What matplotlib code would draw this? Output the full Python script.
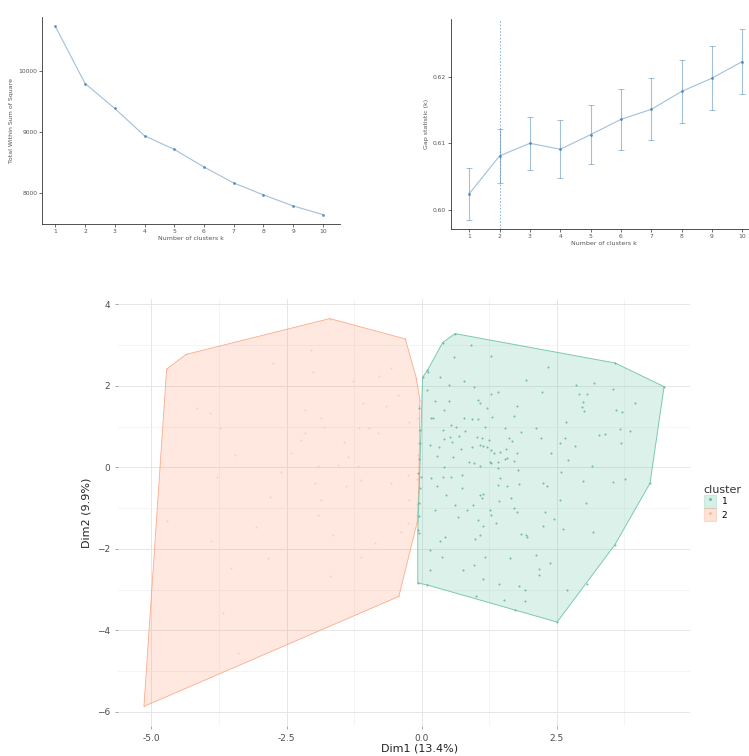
import matplotlib
matplotlib.use("Agg")
import matplotlib.pyplot as plt
from matplotlib.patches import Polygon, Patch
from matplotlib.lines import Line2D
import numpy as np

# ---------------- data ----------------
k_values = [1, 2, 3, 4, 5, 6, 7, 8, 9, 10]
wss_values = [10730, 9792, 9382, 8934, 8710, 8421, 8159, 7962, 7782, 7639]

gap_values = [0.6024, 0.6081, 0.6100, 0.6091, 0.6113, 0.6136, 0.6151, 0.6178, 0.6198, 0.6223]
gap_upper = [0.6063, 0.6122, 0.6139, 0.6135, 0.6157, 0.6181, 0.6198, 0.6225, 0.6246, 0.6272]
gap_lower = [0.5985, 0.6040, 0.6060, 0.6048, 0.6069, 0.6090, 0.6105, 0.6131, 0.6150, 0.6174]
optimal_k = 2

# cluster 1 points (Dim1, Dim2)
c1_dim1 = [0.91, 0.60, 1.29, 2.34, 0.12, 0.34, 0.51, 0.79, 1.94, 2.86, 3.19, 0.11, 0.98, 1.41,
           1.29, 2.23, 2.91, 3.06, 3.55, 0.25, 0.51, 1.05, 1.08, 1.77, 2.99, 2.97, 3.95, 0.41,
           1.22, 1.31, 1.71, 0.17, 0.22, 0.79, 0.94, 1.05, 2.68, 3.00, 3.60, 3.71, 0.39, 0.55,
           0.63, 0.81, 1.17, 1.54, 2.11, 1.85, 2.21, 2.66, 2.57, 2.85, 3.28, 3.40, 3.68, 3.85,
           3.69, 0.42, 0.53, 0.69, 1.03, 1.11, 1.25, 1.62, 1.68, 0.16, 0.33, 0.57, 0.73, 0.94,
           1.08, 1.13, 1.22, 1.28, 1.34, 1.46, 1.56, 1.59, 1.77, 2.40, 0.28, 0.59, 0.88, 0.97,
           1.27, 1.29, 1.41, 1.54, 1.71, 2.72, 0.41, 0.54, 0.74, 1.08, 1.41, 1.78, 2.59, 3.15,
           0.18, 0.39, 0.28, 0.74, 1.45, 1.42, 1.59, 1.80, 2.25, 2.32, 2.99, 3.54, 3.77, 0.45,
           0.62, 0.96, 1.09, 1.14, 1.11, 1.43, 1.65, 2.57, 3.05, 0.25, 0.68, 0.84, 1.27, 1.29,
           1.37, 1.71, 1.76, 2.29, 2.46, 1.05, 1.13, 0.99, 1.09, 0.34, 0.44, 1.85, 1.94, 1.96,
           2.25, 2.61, 3.17, 0.15, 0.38, 1.17, 1.64, 2.11, 2.37, 0.76, 0.97, 0.16, 1.14, 1.43,
           1.80, 2.18, 2.18, 1.91, 2.69, 3.06, 1.00, 1.53, 1.92, 1.73, -0.04, -0.03, -0.06, -0.04,
           -0.07, -0.04, -0.01, -0.02, -0.03, -0.05, -0.04,
           0.62, 0.39, 0.11, 0.02, -0.07, 0.11, 2.51, 3.58, 4.23, 4.49, 3.58]
c1_dim2 = [3.00, 2.71, 2.74, 2.47, 2.34, 2.22, 2.03, 2.12, 2.14, 2.03, 2.08, 1.90, 1.96, 1.85,
           1.81, 1.85, 1.81, 1.81, 1.91, 1.63, 1.63, 1.65, 1.58, 1.50, 1.61, 1.49, 1.58, 1.41,
           1.45, 1.24, 1.26, 1.20, 1.20, 1.20, 1.18, 1.18, 1.12, 1.39, 1.41, 1.36, 0.92, 1.04,
           1.00, 0.89, 1.00, 0.96, 0.97, 0.87, 0.71, 0.73, 0.59, 0.51, 0.79, 0.82, 0.94, 0.90,
           0.60, 0.69, 0.74, 0.77, 0.75, 0.71, 0.67, 0.71, 0.65, 0.55, 0.49, 0.63, 0.44, 0.49,
           0.55, 0.51, 0.49, 0.42, 0.34, 0.38, 0.44, 0.22, 0.34, 0.36, 0.28, 0.26, 0.14, 0.11,
           0.14, 0.10, 0.14, 0.20, 0.16, 0.18, 0.00, -0.23, -0.20, 0.03, -0.02, -0.07, -0.11, 0.03,
           -0.27, -0.23, -0.46, -0.51, -0.27, -0.43, -0.46, -0.42, -0.38, -0.46, -0.33, -0.35, -0.29, -0.68,
           -0.92, -0.92, -0.68, -0.65, -0.76, -0.84, -0.76, -0.80, -0.87, -1.05, -1.21, -1.05, -1.05, -1.17,
           -1.36, -1.00, -1.09, -1.09, -1.27, -1.29, -1.45, -1.76, -1.67, -1.82, -1.70, -1.63, -1.66, -1.72,
           -1.45, -1.52, -1.58, -2.03, -2.21, -2.21, -2.23, -2.15, -2.34, -2.52, -2.39, -2.53, -2.75, -2.86,
           -2.91, -2.50, -2.64, -3.02, -3.01, -2.86, -3.15, -3.25, -3.28, -3.50, 1.45, 0.92, -0.15, -0.88,
           -1.54, -1.62, -0.23, 0.60, -0.50, -1.20, 0.20,
           3.28, 3.06, 2.38, 2.21, -2.84, -2.89, -3.80, -1.90, -0.39, 1.98, 2.56]

# cluster 2 points (Dim1, Dim2)
c2_dim1 = [-2.04, -2.01, -1.27, -0.78, -0.57, -0.44, -1.09, -0.66, -2.16, -1.86, -1.80, -1.15,
           -0.97, -0.81, -2.16, -1.43, -2.23, -0.23, -2.41, -1.37, -1.92, -1.18, -1.55, -1.98,
           -1.40, -0.57, -0.26, -0.23, -1.86, -1.12, -2.75, -4.16, -3.92, -3.46, -2.60, -3.79,
           -2.81, -3.73, -4.72, -3.89, -3.06, -2.84, -3.52, -3.67, -3.39, -1.64, -1.12, -1.70,
           -0.87, -0.26, -0.38, -1.92, -0.05, -0.06, -0.05, -0.07, -0.06, -0.07, -0.08, -0.07,
           -0.08, -0.09, -5.14, -4.72, -4.36, -1.70, -0.30, -0.10, -0.03, -0.08, -0.42]
c2_dim2 = [2.88, 2.34, 2.12, 2.24, 2.43, 1.77, 1.57, 1.50, 1.41, 1.20, 1.00, 0.97,
           0.96, 0.83, 0.83, 0.63, 0.67, 1.12, 0.34, 0.26, 0.02, 0.02, 0.06, -0.39,
           -0.47, -0.39, -0.19, -0.80, -0.80, -0.31, 2.55, 1.45, 1.32, 0.30, -0.11, -0.23,
           -0.72, 0.96, -1.33, -1.82, -1.46, -2.23, -2.48, -3.58, -4.56, -1.66, -2.19, -2.68,
           -1.86, -1.37, -1.58, -1.17, 1.50, 1.20, 0.90, 0.60, 0.30, 0.00, -0.30, -0.60,
           -0.90, -1.20, -5.87, 2.41, 2.77, 3.65, 3.15, 2.20, 1.65, -1.35, -3.17]

# convex hull vertices
hull1_dim1 = [0.62, 0.39, 0.11, 0.02, -0.02, -0.07, -0.07, 0.11, 2.51, 3.58, 4.23, 4.49, 3.58]
hull1_dim2 = [3.28, 3.06, 2.38, 2.21, 0.50, -1.60, -2.84, -2.89, -3.80, -1.90, -0.39, 1.98, 2.56]
hull2_dim1 = [-5.14, -4.72, -4.36, -1.70, -0.30, -0.10, -0.03, -0.05, -0.08, -0.42]
hull2_dim2 = [-5.87, 2.41, 2.77, 3.65, 3.15, 2.20, 1.65, -0.50, -1.35, -3.17]

cluster_labels = ["1", "2"]
x_label_pca = "Dim1 (13.4%)"
y_label_pca = "Dim2 (9.9%)"

# ---------------- style ----------------
GREEN = "#66C2A5"
ORANGE = "#FC8D62"
LINE = "#4682B4"
TXT = "#555555"

fig = plt.figure(figsize=(7.49, 7.56), dpi=100)

def classic(ax, fs=4.3):
    for s in ["top", "right"]:
        ax.spines[s].set_visible(False)
    for s in ["left", "bottom"]:
        ax.spines[s].set_color("#333333")
        ax.spines[s].set_linewidth(0.6)
    ax.tick_params(labelsize=fs, colors="#333333", length=2, width=0.5, pad=1.5)
    for t in ax.get_xticklabels() + ax.get_yticklabels():
        t.set_color(TXT)

# ---- top-left: elbow ----
ax1 = fig.add_axes([42/749, 1-224/756, 298/749, 207/756])
ax1.plot(k_values, wss_values, color=LINE, lw=0.8, alpha=0.5)
ax1.scatter(k_values, wss_values, s=4, color=LINE, alpha=0.85, zorder=3, linewidths=0)
ax1.set_xlim(0.55, 10.58)
ax1.set_ylim(7484, 10885)
ax1.set_xticks(k_values)
ax1.set_yticks([8000, 9000, 10000])
ax1.set_xlabel("Number of clusters k", fontsize=4.5, color=TXT, labelpad=1.5)
ax1.set_ylabel("Total Within Sum of Square", fontsize=4.5, color=TXT, labelpad=3)
classic(ax1)

# ---- top-right: gap statistic ----
ax2 = fig.add_axes([451/749, 1-229/756, 305/749, 210/756])
yerr = [np.array(gap_values) - np.array(gap_lower), np.array(gap_upper) - np.array(gap_values)]
ax2.errorbar(k_values, gap_values, yerr=yerr, color=LINE, lw=0.8, alpha=0.5,
             elinewidth=0.8, capsize=2.2, capthick=0.7, fmt="-")
ax2.scatter(k_values, gap_values, s=4, color=LINE, alpha=0.85, zorder=3, linewidths=0)
ax2.axvline(optimal_k, color=LINE, lw=0.6, ls=(0, (2, 2)), alpha=0.7)
ax2.set_xlim(0.4, 10.45)
ax2.set_ylim(0.5971, 0.6287)
ax2.set_xticks(k_values)
ax2.set_yticks([0.60, 0.61, 0.62])
ax2.set_yticklabels(["0.60", "0.61", "0.62"])
ax2.set_xlabel("Number of clusters k", fontsize=4.5, color=TXT, labelpad=1.5)
ax2.set_ylabel("Gap statistic (k)", fontsize=4.5, color=TXT, labelpad=3)
classic(ax2)

# ---- bottom: cluster plot ----
ax3 = fig.add_axes([118/749, 1-726/756, 572/749, 427/756])
for s in ax3.spines.values():
    s.set_visible(False)
ax3.set_xlim(-5.62, 4.97)
ax3.set_ylim(-6.35, 4.13)
ax3.set_xticks([-5.0, -2.5, 0.0, 2.5])
ax3.set_xticklabels(["-5.0", "-2.5", "0.0", "2.5"])
ax3.set_yticks([-6, -4, -2, 0, 2, 4])
ax3.set_xticks([-3.75, -1.25, 1.25, 3.75], minor=True)
ax3.set_yticks([-5, -3, -1, 1, 3], minor=True)
ax3.grid(True, which="major", color="#e6e6e6", lw=0.7)
ax3.grid(True, which="minor", color="#f0f0f0", lw=0.5)
ax3.set_axisbelow(True)
ax3.tick_params(which="major", labelsize=6.5, colors="#999999", length=2.5, width=0.6, pad=3)
ax3.tick_params(which="minor", length=0)
for t in ax3.get_xticklabels() + ax3.get_yticklabels():
    t.set_color("#4d4d4d")

poly2 = Polygon(np.column_stack([hull2_dim1, hull2_dim2]), closed=True,
                facecolor=ORANGE, alpha=0.2, edgecolor="none", zorder=2)
ax3.add_patch(poly2)
ax3.add_patch(Polygon(np.column_stack([hull2_dim1, hull2_dim2]), closed=True,
                      fill=False, edgecolor=ORANGE, lw=0.6, alpha=0.7, zorder=3))
poly1 = Polygon(np.column_stack([hull1_dim1, hull1_dim2]), closed=True,
                facecolor=GREEN, alpha=0.22, edgecolor="none", zorder=2)
ax3.add_patch(poly1)
ax3.add_patch(Polygon(np.column_stack([hull1_dim1, hull1_dim2]), closed=True,
                      fill=False, edgecolor=GREEN, lw=0.7, alpha=0.85, zorder=3))

ax3.scatter(c2_dim1, c2_dim2, s=1.8, color="#e8a08a", alpha=0.35, linewidths=0, zorder=4)
ax3.scatter(c1_dim1, c1_dim2, s=2.2, color="#5aae94", alpha=0.8, linewidths=0, zorder=4)

ax3.set_xlabel(x_label_pca, fontsize=8, color="#222222")
ax3.set_ylabel(y_label_pca, fontsize=8, color="#222222", labelpad=4)
ax3.xaxis.set_label_coords((420-118)/572, -0.042)

handles = [
    (Patch(facecolor=GREEN, alpha=0.25, edgecolor=GREEN, lw=0.8),
     Line2D([], [], marker="o", ls="none", ms=1.2, color=GREEN)),
    (Patch(facecolor=ORANGE, alpha=0.25, edgecolor=ORANGE, lw=0.8),
     Line2D([], [], marker="o", ls="none", ms=1.2, color=ORANGE, alpha=0.4)),
]
leg = fig.legend(handles, cluster_labels, title="cluster", loc="upper left",
                 bbox_to_anchor=(700/749, 1-481/756), frameon=False,
                 fontsize=6.5, title_fontsize=8, handlelength=1.4, handleheight=1.9,
                 handletextpad=0.6, labelspacing=0.0, borderaxespad=0)
leg.get_title().set_color("#333333")
leg._legend_box.align = "left"

fig.savefig("out.png", dpi=100)
